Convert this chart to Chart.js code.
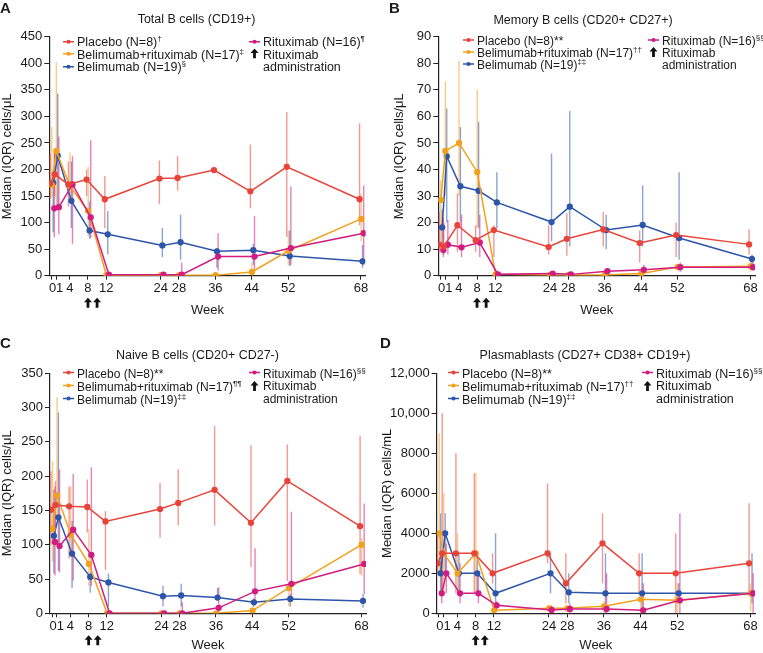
<!DOCTYPE html>
<html>
<head>
<meta charset="utf-8">
<script src="https://cdn.jsdelivr.net/npm/chart.js"></script>
<style>
body{margin:0;background:#fff;font-family:"Liberation Sans",Arial,sans-serif;color:#1a1a1a}
#wrap{position:relative;width:763px;height:653px;overflow:hidden}
canvas{position:absolute}
.letter{position:absolute;font-weight:bold;font-size:15px;line-height:15px}
.ttl{position:absolute;font-size:12.5px;transform:translate(-50%,-50%);white-space:nowrap}
.item{position:absolute;white-space:nowrap;transform:translateY(-50%)}
.item svg{vertical-align:middle;margin-right:3px;position:relative;top:-1px}
sup{font-size:8px;line-height:0;vertical-align:5px}
</style>
</head>
<body>
<div id="wrap"></div>
<script>
// weeks of the study visits
let weeks = [0, 1, 4, 8, 12, 24, 28, 36, 44, 52, 68];
let xTicks = [0, 1, 4, 8, 12, 24, 28, 36, 44, 52, 68];
let xTickLabels = ['', '01', '4', '8', '12', '24', '28', '36', '44', '52', '68'];
let rituximabWeeks = [8, 10];

let groupNames = ['Placebo (N=8)', 'Belimumab+rituximab (N=17)', 'Belimumab (N=19)', 'Rituximab (N=16)'];
let colors = ['#e8443a', '#f2a11f', '#2d55aa', '#d11c80'];
let dodge = [-0.3, 0.05, 0.35, 0.6];

// A: total B cells (CD19+)
let totalPlacebo = [174, 191, 172, 181, 144, 183, 184, 199, 159, 205, 144];
let totalPlaceboIqr = [[145,230],[150,235],[130,215],[150,200],[90,188],[135,217],[160,225],[195,203],[127,247],[73,308],[95,287]];
let totalBeliRitux = [171, 235, 168, 122, 1, 1, 1, 1, 7, 47, 107];
let totalBeliRituxIqr = [[148,280],[125,402],[140,232],[75,205],[0,3],[0,4],[0,3],[0,3],[0,25],[20,85],[65,155]];
let totalBeli = [175, 226, 141, 85, 78, 57, 63, 46, 48, 37, 27];
let totalBeliIqr = [[82,200],[130,343],[90,215],[70,140],[40,122],[35,90],[30,115],[15,52],[20,60],[18,85],[15,58]];
let totalRitux = [127, 129, 172, 110, 2, 2, 2, 36, 36, 52, 80];
let totalRituxIqr = [[72,232],[78,262],[60,225],[70,255],[0,5],[0,4],[0,25],[10,80],[10,112],[20,168],[20,170]];

// B: memory B cells (CD20+ CD27+)
let memPlacebo = [11.8, 11, 19, 13.4, 17.2, 10.8, 13.9, 17.4, 12.3, 15.3, 11.8];
let memPlaceboIqr = [[9,24],[8,20],[9,31],[9,19],[7,19],[8,19],[7.5,23.5],[11,24],[5,17],[7,20],[8,17.5]];
let memBeliRitux = [28.5, 47, 50, 39, 0.5, 0.3, 0.3, 0.3, 0.8, 3.3, 3.6];
let memBeliRituxIqr = [[13,36],[30,73],[30,81],[18,70],[0,1],[0,1],[0,1],[0,1],[0,2],[2,4],[1.5,5]];
let memBeli = [18.2, 45, 33.7, 32, 27.6, 20.2, 26, 17.2, 19.1, 14.2, 6.3];
let memBeliIqr = [[12,25],[20,63],[20,56],[18,58],[18,39],[13,46],[11,62],[10,23],[11,34],[6,39],[4,8]];
let memRitux = [9.7, 11.7, 10.7, 12.5, 0.5, 0.8, 0.5, 1.7, 2.2, 3.2, 3.2];
let memRituxIqr = [[7,22],[8,21],[7,23],[7,23],[0,1.5],[0.3,1.5],[0.2,1],[1,2.5],[1,4],[1.5,5],[2,5]];

// C: naive B cells (CD20+ CD27-)
let naivePlacebo = [151, 158, 156, 155, 134, 152, 161, 180, 132, 193, 127];
let naivePlaceboIqr = [[100,207],[100,193],[80,185],[118,195],[63,149],[110,190],[128,210],[128,273],[68,245],[47,246],[57,259]];
let naiveBeliRitux = [123, 172, 115, 72, 0, 0, 0, 0, 4, 37, 100];
let naiveBeliRituxIqr = [[75,222],[140,315],[90,185],[40,123],[0,1],[0,1],[0,1],[0,1],[0,10],[10,45],[55,110]];
let naiveBeli = [113, 140, 87, 53, 45, 25, 26, 23, 16, 21, 18];
let naiveBeliIqr = [[58,180],[62,293],[37,135],[30,60],[10,58],[10,40],[10,43],[20,37],[10,22],[10,28],[8,28]];
let naiveRitux = [104, 98, 122, 85, 0, 0, 0, 8, 32, 43, 72];
let naiveRituxIqr = [[55,185],[60,210],[48,203],[40,213],[0,1],[0,1],[0,16],[0,38],[12,95],[18,148],[28,160]];

// D: plasmablasts (CD27+ CD38+ CD19+)
let plasPlacebo = [2500, 3000, 3000, 3000, 2000, 3000, 1500, 3500, 2000, 2000, 2500];
let plasPlaceboIqr = [[2000,4000],[1000,10000],[1000,8000],[1000,7000],[1500,3000],[2500,6500],[500,3000],[1500,5000],[1000,3000],[0,4000],[1000,5500]];
let plasBeliRitux = [4000, 3000, 2000, 3000, 150, 250, 250, 350, 700, 650, 1000];
let plasBeliRituxIqr = [[2000,9000],[1000,6000],[1000,4000],[1000,7000],[0,500],[0,400],[0,400],[0,600],[0,1000],[0,1500],[100,1500]];
let plasBeli = [2000, 4000, 2000, 2000, 1000, 2000, 1050, 1000, 1000, 1000, 1000];
let plasBeliIqr = [[1000,5000],[2000,5000],[1000,3000],[1000,3000],[500,4000],[1000,3000],[500,2000],[0,3000],[0,3000],[500,1500],[500,3000]];
let plasRitux = [1000, 2000, 1000, 1000, 400, 170, 220, 220, 150, 650, 1000];
let plasRituxIqr = [[500,3000],[1000,3500],[500,2500],[500,2000],[200,600],[0,400],[0,500],[0,2000],[0,1500],[0,5000],[0,2000]];

let wrap = document.getElementById('wrap');

// IQR whiskers, drawn under the lines
let iqrPlugin = {
    id: 'iqr',
    beforeDatasetsDraw(chart) {
        let ctx = chart.ctx, y = chart.scales.y;
        ctx.save();
        ctx.lineWidth = 1.4;
        ctx.globalAlpha = 0.55;
        for (let k = chart.data.datasets.length - 1; k >= 0; k--) {
            let ds = chart.data.datasets[k];
            let meta = chart.getDatasetMeta(k);
            ctx.strokeStyle = ds.borderColor;
            ds.iqr.forEach((r, i) => {
                let px = meta.data[i].x;
                ctx.beginPath();
                ctx.moveTo(px, y.getPixelForValue(r[0]));
                ctx.lineTo(px, y.getPixelForValue(r[1]));
                ctx.stroke();
            });
        }
        ctx.restore();
    }
};

// rituximab administration arrows under the x axis
let arrowPlugin = {
    id: 'arrows',
    afterDraw(chart) {
        let ctx = chart.ctx, x = chart.scales.x, b = chart.chartArea.bottom;
        ctx.save();
        ctx.fillStyle = '#111';
        rituximabWeeks.forEach(w => {
            let px = x.getPixelForValue(w), t = b + 22;
            ctx.beginPath();
            ctx.moveTo(px, t);
            ctx.lineTo(px + 4, t + 4.5);
            ctx.lineTo(px + 1.4, t + 4.5);
            ctx.lineTo(px + 1.4, t + 10);
            ctx.lineTo(px - 1.4, t + 10);
            ctx.lineTo(px - 1.4, t + 4.5);
            ctx.lineTo(px - 4, t + 4.5);
            ctx.closePath();
            ctx.fill();
        });
        ctx.restore();
    }
};

function marker(c) {
    return `<svg width="11" height="6"><line x1="0" y1="3" x2="11" y2="3" stroke="${c}" stroke-width="1.5"/><circle cx="5.5" cy="3" r="2.1" fill="${c}"/></svg>`;
}
function arrowIcon() {
    return `<svg width="11" height="10"><path d="M5.5 0 L9.5 4.5 L6.9 4.5 L6.9 10 L4.1 10 L4.1 4.5 L1.5 4.5 Z" fill="#111"/></svg>`;
}

function panel(p) {
    let cv = document.createElement('canvas');
    cv.width = p.w; cv.height = p.h;
    cv.style.left = p.x + 'px'; cv.style.top = p.y + 'px';
    wrap.appendChild(cv);

    let lt = document.createElement('div');
    lt.className = 'letter';
    lt.style.left = p.letterX + 'px'; lt.style.top = p.letterY + 'px';
    lt.textContent = p.letter;
    wrap.appendChild(lt);

    let tt = document.createElement('div');
    tt.className = 'ttl';
    tt.style.left = p.titleX + 'px'; tt.style.top = p.titleY + 'px';
    tt.textContent = p.title;
    wrap.appendChild(tt);

    // legend: 3 rows left, rituximab + arrow right
    let rows = [[0, p.legX1, 0], [1, p.legX1, 1], [2, p.legX1, 2], [3, p.legX2, 0]];
    rows.forEach(([g, lx, r]) => {
        let d = document.createElement('div');
        d.className = 'item';
        d.style.left = lx + 'px';
        d.style.top = (p.legY + r * p.legGap) + 'px';
        d.style.fontSize = p.legFont + 'px';
        d.style.lineHeight = p.legGap + 'px';
        d.innerHTML = marker(colors[g]) + groupNames[g] + (p.marks[g].startsWith('*') ? p.marks[g] : '<sup>' + p.marks[g] + '</sup>');
        wrap.appendChild(d);
    });
    let a = document.createElement('div');
    a.className = 'item';
    a.style.left = p.legX2 + 'px';
    a.style.top = (p.legY + p.legGap * 1.5) + 'px';
    a.style.fontSize = p.legFont + 'px';
    a.style.lineHeight = p.legGap + 'px';
    a.innerHTML = arrowIcon() + 'Rituximab<br><span style="margin-left:14px">administration</span>';
    wrap.appendChild(a);

    let order = [0, 3, 1, 2];
    new Chart(cv, {
        type: 'line',
        data: {
            datasets: order.map(g => ({
                data: weeks.map((w, i) => ({ x: w + dodge[g], y: p.med[g][i] })),
                iqr: p.iqr[g],
                borderColor: colors[g],
                backgroundColor: colors[g],
                borderWidth: 1.5,
                pointRadius: 2.4,
                pointHoverRadius: 2.4,
                tension: 0
            }))
        },
        options: {
            responsive: false,
            animation: false,
            layout: { padding: { top: p.top, right: p.w - p.right, bottom: 0, left: 0 } },
            plugins: { legend: { display: false }, tooltip: { enabled: false } },
            scales: {
                x: {
                    type: 'linear', min: -0.5, max: 69,
                    afterBuildTicks: s => { s.ticks = xTicks.map(v => ({ value: v })); },
                    afterFit: s => { s.height = p.h - p.bottom; },
                    ticks: {
                        autoSkip: false, maxRotation: 0, padding: 1, color: '#1a1a1a',
                        font: { family: 'Liberation Sans', size: 13 },
                        callback: v => xTickLabels[xTicks.indexOf(v)]
                    },
                    grid: { display: true, drawOnChartArea: false, tickLength: 4, color: '#222', lineWidth: 1 },
                    border: { color: '#222', width: 1.2 },
                    title: { display: true, text: 'Week', color: '#1a1a1a', font: { family: 'Liberation Sans', size: 13 }, padding: { top: 0, bottom: p.weekPad } }
                },
                y: {
                    min: 0, max: p.ymax,
                    afterFit: s => { s.width = p.left; },
                    ticks: {
                        stepSize: p.step, padding: 2, color: '#1a1a1a',
                        font: { family: 'Liberation Sans', size: 13 },
                        callback: v => v >= 10000 ? v.toLocaleString('en-US') : String(v)
                    },
                    grid: { display: true, drawOnChartArea: false, tickLength: 5, color: '#222', lineWidth: 1 },
                    border: { color: '#222', width: 1.2 },
                    title: { display: true, text: p.yTitle, color: '#1a1a1a', font: { family: 'Liberation Sans', size: 13 }, padding: { top: p.yPad, bottom: 0 } }
                }
            }
        },
        plugins: [iqrPlugin, arrowPlugin]
    });
}

panel({
    x: 0, y: 0, w: 380, h: 322, left: 49.3, top: 36.8, right: 365.5, bottom: 275.7,
    ymax: 450, step: 50, yTitle: 'Median (IQR) cells/μL', yPad: 0, weekPad: 4,
    letter: 'A', letterX: 0, letterY: 0, title: 'Total B cells (CD19+)', titleX: 196.5, titleY: 18.5,
    legX1: 63, legX2: 249, legY: 42, legGap: 12.5, legFont: 12.5, marks: ['†', '‡', '§', '¶'],
    med: [totalPlacebo, totalBeliRitux, totalBeli, totalRitux],
    iqr: [totalPlaceboIqr, totalBeliRituxIqr, totalBeliIqr, totalRituxIqr]
});
panel({
    x: 380, y: 0, w: 383, h: 322, left: 58.3, top: 36.8, right: 375, bottom: 275.7,
    ymax: 90, step: 10, yTitle: 'Median (IQR) cells/μL', yPad: 12, weekPad: 4,
    letter: 'B', letterX: 389, letterY: 0, title: 'Memory B cells (CD20+ CD27+)', titleX: 583, titleY: 19.5,
    legX1: 463, legX2: 648, legY: 40.5, legGap: 12, legFont: 12, marks: ['**', '††', '‡‡', '§§'],
    med: [memPlacebo, memBeliRitux, memBeli, memRitux],
    iqr: [memPlaceboIqr, memBeliRituxIqr, memBeliIqr, memRituxIqr]
});
panel({
    x: 0, y: 322, w: 380, h: 331, left: 50, top: 51.3, right: 366, bottom: 291.3,
    ymax: 350, step: 50, yTitle: 'Median (IQR) cells/μL', yPad: 0, weekPad: 0,
    letter: 'C', letterX: 0, letterY: 335, title: 'Naive B cells (CD20+ CD27-)', titleX: 197.5, titleY: 355,
    legX1: 63, legX2: 249, legY: 373.5, legGap: 13, legFont: 12, marks: ['**', '¶¶', '‡‡', '§§'],
    med: [naivePlacebo, naiveBeliRitux, naiveBeli, naiveRitux],
    iqr: [naivePlaceboIqr, naiveBeliRituxIqr, naiveBeliIqr, naiveRituxIqr]
});
panel({
    x: 380, y: 322, w: 383, h: 331, left: 56.7, top: 51.3, right: 375, bottom: 291.3,
    ymax: 12000, step: 2000, yTitle: 'Median (IQR) cells/mL', yPad: 0, weekPad: 0,
    letter: 'D', letterX: 380, letterY: 335, title: 'Plasmablasts (CD27+ CD38+ CD19+)', titleX: 585, titleY: 355,
    legX1: 448, legX2: 642, legY: 373.5, legGap: 13, legFont: 12.5, marks: ['**', '††', '‡‡', '§§'],
    med: [plasPlacebo, plasBeliRitux, plasBeli, plasRitux],
    iqr: [plasPlaceboIqr, plasBeliRituxIqr, plasBeliIqr, plasRituxIqr]
});
</script>
</body>
</html>
